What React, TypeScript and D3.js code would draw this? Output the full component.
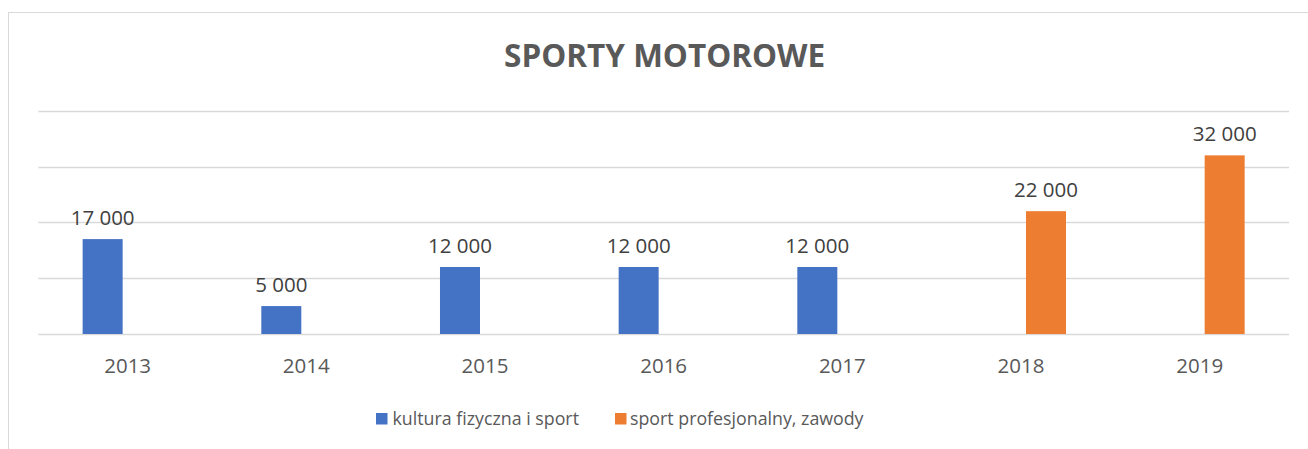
import React from "react";
import * as d3 from "d3";

const title = "SPORTY MOTOROWE";
const years = ["2013", "2014", "2015", "2016", "2017", "2018", "2019"];
const seriesNames = ["kultura fizyczna i sport", "sport profesjonalny, zawody"];
const kulturaValues: (number | null)[] = [17000, 5000, 12000, 12000, 12000, null, null];
const zawodyValues: (number | null)[] = [null, null, null, null, null, 22000, 32000];
const seriesColors = ["#4472C4", "#ED7D31"];
const yTicks = [0, 10000, 20000, 30000, 40000];

const W = 1308;
const H = 449;
const FONT = "'Open Sans', 'Noto Sans', sans-serif";

const fmt = (v: number) => d3.format(",")(v).replace(/,/g, " ");

export default function App() {
  const plotL = 38.3, plotR = 1289, plotTop = 110.7, plotBottom = 334;
  const x = d3.scaleBand<string>().domain(years).range([plotL, plotR]).paddingInner(0).paddingOuter(0);
  const y = d3.scaleLinear().domain([0, 40000]).range([plotBottom, plotTop]);
  const bw = x.bandwidth();
  const groupW = 90;
  const inner = d3.scaleBand<number>().domain([0, 1]).range([(bw - groupW) / 2, (bw + groupW) / 2]).paddingInner(0.2).paddingOuter(0);
  const series = [kulturaValues, zawodyValues];

  return (
    <svg width={W} height={H} style={{ position: "absolute", left: 0, top: 0, display: "block" }} fontFamily={FONT}>
      <rect x={0} y={0} width={W} height={H} fill="#ffffff" />
      <rect x={8.5} y={12.5} width={1400} height={600} fill="#ffffff" stroke="#d9d9d9" strokeWidth={1} />
      <text x={(plotL + plotR) / 2 + 1} y={67} textAnchor="middle" fontSize={31.5} fontWeight="bold" fill="#595959">{title}</text>
      {yTicks.map((t) => (
        <line key={t} x1={plotL} x2={plotR} y1={Math.round(y(t)) + 0.5} y2={Math.round(y(t)) + 0.5} stroke="#d9d9d9" strokeWidth={1.3} />
      ))}
      {series.map((vals, si) =>
        vals.map((v, i) => {
          if (v == null) return null;
          const bx = (x(years[i]) as number) + (inner(si) as number);
          const by = y(v);
          return (
            <g key={`${si}-${i}`}>
              <rect x={bx} y={by} width={inner.bandwidth()} height={y(0) - by} fill={seriesColors[si]} />
              <text x={bx + inner.bandwidth() / 2} y={by - 14} textAnchor="middle" fontSize={20.5} fill="#404040">{fmt(v)}</text>
            </g>
          );
        })
      )}
      {years.map((yr) => (
        <text key={yr} x={(x(yr) as number) + bw / 2} y={373} textAnchor="middle" fontSize={20.5} fill="#595959">{yr}</text>
      ))}
      <g>
        <rect x={376} y={413} width={11.5} height={11.5} fill={seriesColors[0]} />
        <text x={392.5} y={425} fontSize={17.8} fill="#595959">{seriesNames[0]}</text>
        <rect x={615} y={413} width={11.5} height={11.5} fill={seriesColors[1]} />
        <text x={630} y={425} fontSize={17.8} fill="#595959">{seriesNames[1]}</text>
      </g>
    </svg>
  );
}
